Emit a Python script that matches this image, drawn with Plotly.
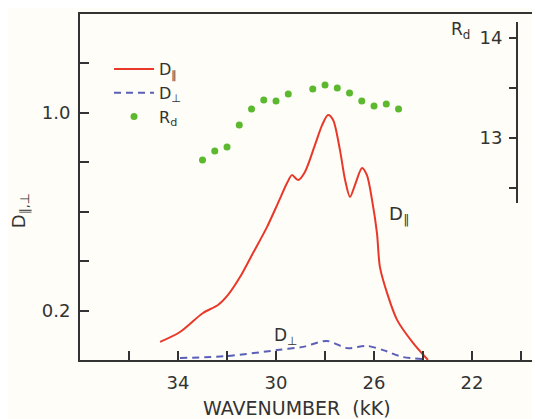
import plotly.graph_objects as go

# ---- data ----
d_par_x = [34.73, 33.92, 32.98, 32.37, 31.96, 31.47, 30.94, 30.37, 29.92, 29.55, 29.35, 29.10,
           28.82, 28.41, 28.12, 27.88, 27.67, 27.39, 27.18, 26.98, 26.78, 26.49, 26.29, 26.08,
           25.88, 25.76, 25.47, 25.06, 24.41, 23.80]
d_par_y = [0.073, 0.113, 0.190, 0.222, 0.263, 0.335, 0.432, 0.537, 0.634, 0.715, 0.747, 0.727,
           0.760, 0.869, 0.949, 0.990, 0.970, 0.848, 0.727, 0.659, 0.707, 0.776, 0.747, 0.646,
           0.513, 0.376, 0.271, 0.162, 0.069, 0.0]

d_perp_x = [33.92, 32.0, 29.96, 28.9, 27.92, 27.1, 26.29, 25.63, 24.82, 24.04]
d_perp_y = [0.008, 0.016, 0.040, 0.053, 0.077, 0.048, 0.057, 0.040, 0.012, 0.004]

rd_x = [33.0, 32.5, 32.0, 31.5, 31.0, 30.5, 30.0, 29.5, 28.5, 28.0, 27.5, 27.0, 26.5, 26.0, 25.5, 25.0]
rd_y = [12.78, 12.87, 12.91, 13.13, 13.29, 13.38, 13.37, 13.44, 13.49, 13.53, 13.50, 13.45,
        13.37, 13.32, 13.34, 13.29]

x_tickvals = [36, 34, 32, 30, 28, 26, 24, 22, 20]
x_ticktext = ["", "34", "", "30", "", "26", "", "22", ""]
y_tickvals = [0.2, 0.4, 0.6, 0.8, 1.0, 1.2]
y_ticktext = ["0.2", "", "", "", "1.0", ""]
y2_tickvals = [12.5, 13.0, 13.5, 14.0]
y2_ticktext = ["", "13", "", "14"]

# ---- styling ----
BG = "#fefdf7"
INK = "#333333"
FONT = "DejaVu Sans"
RED = "#e8382a"
BLUE = "#5a5fb8"
GREEN = "#5cb82e"

fig = go.Figure()
fig.add_trace(go.Scatter(x=d_par_x, y=d_par_y, mode="lines", name="D<sub>∥</sub>",
                         line=dict(color=RED, width=2, shape="spline", smoothing=0.8)))
fig.add_trace(go.Scatter(x=d_perp_x, y=d_perp_y, mode="lines", name="D<sub>⊥</sub>",
                         line=dict(color=BLUE, width=2, dash="7px,5px", shape="spline", smoothing=0.8)))
fig.add_trace(go.Scatter(x=rd_x, y=rd_y, mode="markers", name="R<sub>d</sub>", yaxis="y2",
                         marker=dict(color=GREEN, size=7)))

fig.update_layout(
    width=540, height=419,
    margin=dict(l=72, r=0, t=6, b=67),
    paper_bgcolor=BG, plot_bgcolor="rgba(0,0,0,0)",
    font=dict(family=FONT, color=INK, size=17),
    showlegend=True,
    legend=dict(x=0.062, y=0.89, xanchor="left", yanchor="top",
                bgcolor="rgba(0,0,0,0)", font=dict(size=16, color=INK),
                tracegroupgap=0, itemwidth=40),
    xaxis=dict(range=[38.0, 18.9], tickvals=x_tickvals, ticktext=x_ticktext,
               ticks="inside", ticklen=9, tickwidth=1.5, tickcolor=INK,
               showline=True, linecolor=INK, linewidth=2, mirror=True,
               showgrid=False, zeroline=False, automargin=False,
               ticklabelstandoff=5, tickfont=dict(size=18)),
    yaxis=dict(range=[0, 1.398], tickvals=y_tickvals, ticktext=y_ticktext,
               ticks="inside", ticklen=9, tickwidth=1.5, tickcolor=INK,
               showline=True, linecolor=INK, linewidth=2, mirror=False,
               showgrid=False, zeroline=False, automargin=False,
               ticklabelstandoff=4, tickfont=dict(size=18)),
    yaxis2=dict(domain=[0.4538, 0.9769], range=[12.35, 14.16], anchor="free", position=0.9338,
                side="left", tickvals=y2_tickvals, ticktext=y2_ticktext,
                ticks="outside", ticklen=7, tickwidth=1.5, tickcolor=INK,
                showline=True, linecolor=INK, linewidth=2,
                showgrid=False, zeroline=False, automargin=False,
                ticklabelstandoff=3, tickfont=dict(size=18)),
)

fig.add_annotation(text="WAVENUMBER  (kK)", xref="paper", yref="paper", x=0.4637, y=-0.14,
                   showarrow=False, font=dict(size=19, color=INK), xanchor="center", yanchor="middle")
fig.add_annotation(text="D<sub>∥,⊥</sub>", xref="paper", yref="paper", x=-0.128, y=0.43,
                   textangle=-90, showarrow=False, font=dict(size=18, color=INK),
                   xanchor="center", yanchor="middle")
fig.add_annotation(text="R<sub>d</sub>", xref="paper", yref="paper", x=0.814, y=0.952,
                   showarrow=False, font=dict(size=17, color=INK), xanchor="center", yanchor="middle")
fig.add_annotation(text="D<sub>∥</sub>", x=25.0, y=0.586, showarrow=False,
                   font=dict(size=18, color=INK), xanchor="center", yanchor="middle")
fig.add_annotation(text="D<sub>⊥</sub>", x=29.63, y=0.093, showarrow=False,
                   font=dict(size=17, color=INK), xanchor="center", yanchor="middle")

fig.write_html("out.html")
